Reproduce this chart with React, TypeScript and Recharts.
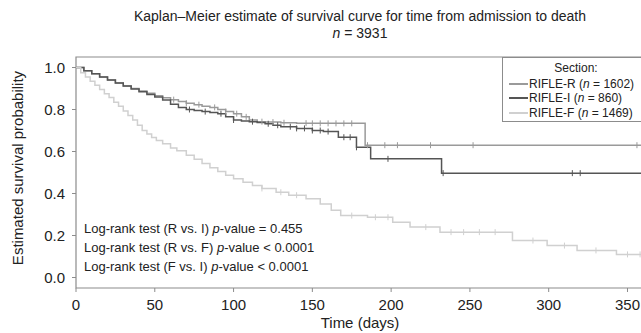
import { ComposedChart, Line, Scatter, XAxis, YAxis, ReferenceArea } from 'recharts'

const xTicks = [0, 50, 100, 150, 200, 250, 300, 350]
const yTicks = [0, 0.2, 0.4, 0.6, 0.8, 1.0]

// RIFLE-R
const rTime = [0, 5, 10, 15, 20, 25, 30, 35, 40, 45, 50, 55, 60, 65, 70, 75, 80, 85, 90, 95, 100, 105, 110, 115, 120, 130, 140, 150, 183.5, 365]
const rSurv = [1, 0.985, 0.97, 0.955, 0.94, 0.926, 0.912, 0.9, 0.888, 0.877, 0.866, 0.856, 0.847, 0.838, 0.83, 0.823, 0.816, 0.81, 0.8, 0.79, 0.78, 0.765, 0.75, 0.742, 0.74, 0.737, 0.735, 0.734, 0.63, 0.63]
const rCens = [62, 70, 78, 88, 95, 102, 108, 118, 125, 132, 146, 150, 155, 160, 165, 170, 175, 185, 196, 204, 225, 252, 356]

// RIFLE-I
const iTime = [0, 5, 10, 15, 20, 25, 30, 35, 40, 45, 50, 55, 60, 65, 70, 75, 80, 85, 90, 95, 100, 105, 110, 115, 120, 125, 130, 140, 150, 157, 166.5, 178, 187, 232, 365]
const iSurv = [1, 0.985, 0.97, 0.955, 0.94, 0.926, 0.912, 0.898, 0.885, 0.872, 0.86, 0.845, 0.825, 0.81, 0.8, 0.795, 0.79, 0.786, 0.78, 0.765, 0.75, 0.745, 0.742, 0.738, 0.732, 0.725, 0.718, 0.71, 0.7, 0.695, 0.668, 0.62, 0.565, 0.497, 0.497]
const iCens = [72, 82, 92, 100, 112, 122, 128, 136, 140, 145, 150, 155, 160, 170, 174, 178, 198, 233, 315, 320]

// RIFLE-F
const fTime = [0, 3, 6, 9, 12, 15, 18, 21, 24, 27, 30, 33, 36, 39, 42, 45, 48, 51, 55, 60, 64, 70, 75, 80, 85, 90, 95, 100, 106, 112, 118, 127, 135, 146, 155, 162, 168, 185, 201, 212, 231, 277, 299, 318, 343, 365]
const fSurv = [1, 0.975, 0.955, 0.935, 0.915, 0.895, 0.875, 0.857, 0.835, 0.815, 0.793, 0.772, 0.75, 0.725, 0.7, 0.683, 0.667, 0.652, 0.637, 0.617, 0.603, 0.582, 0.563, 0.543, 0.523, 0.505, 0.487, 0.47, 0.454, 0.438, 0.424, 0.406, 0.392, 0.375, 0.35, 0.32, 0.295, 0.287, 0.263, 0.24, 0.216, 0.176, 0.152, 0.129, 0.11, 0.11]
const fCens = [118, 130, 140, 175, 190, 198, 222, 238, 246, 256, 266, 290, 310, 330, 350, 358]

const pairs = (t: number[], s: number[]) => t.map((x, i) => ({ t: x, s: s[i] }))
const survAt = (t: number[], s: number[], x: number) => {
  let v = s[0]
  for (let i = 0; i < t.length; i++) if (t[i] <= x) v = s[i]
  return v
}
const censPts = (t: number[], s: number[], c: number[]) => c.map(x => ({ t: x, s: survAt(t, s, x) }))

const series = [
  { name: 'RIFLE-R', n: 1602, color: '#9a9a9a', curve: pairs(rTime, rSurv), cens: censPts(rTime, rSurv, rCens) },
  { name: 'RIFLE-I', n: 860, color: '#555555', curve: pairs(iTime, iSurv), cens: censPts(iTime, iSurv, iCens) },
  { name: 'RIFLE-F', n: 1469, color: '#d0d0d0', curve: pairs(fTime, fSurv), cens: censPts(fTime, fSurv, fCens) },
]

const font = '"Liberation Sans", Arial, sans-serif'
const frame = '#8c8c8c'

const tick = (color: string) => (props: any) => {
  const { cx, cy } = props
  return <line x1={cx} x2={cx} y1={cy - 3} y2={cy + 3} stroke={color} strokeWidth={1} />
}

export default function App() {
  return (
    <div style={{ position: 'absolute', left: 0, top: 0, width: 641, height: 333, overflow: 'hidden', background: '#fff', fontFamily: font, color: '#222' }}>
      <div style={{ position: 'absolute', left: 0, width: 720, top: 8, textAlign: 'center', fontSize: 14, lineHeight: '17px' }}>
        Kaplan–Meier estimate of survival curve for time from admission to death<br />
        <i>n</i> = 3931
      </div>

      <ComposedChart width={670} height={333} margin={{ top: 57, right: 11, bottom: 15, left: 0 }} style={{ position: 'absolute', left: 0, top: 0 }}>
        <XAxis dataKey="t" type="number" domain={[0, 370]} ticks={xTicks} allowDataOverflow height={30}
          axisLine={false} tickLine={{ stroke: frame }} tickSize={4} tickMargin={7}
          tick={{ fontSize: 15, fill: '#222', fontFamily: font }} />
        <YAxis type="number" domain={[-0.05, 1.05]} ticks={yTicks} allowDataOverflow width={76}
          axisLine={false} tickLine={{ stroke: frame }} tickSize={4} tickMargin={7}
          tickFormatter={(v: number) => v.toFixed(1)}
          tick={{ fontSize: 15, fill: '#222', fontFamily: font }} />
        <ReferenceArea x1={0} x2={370} y1={-0.05} y2={1.05} fill="none" stroke={frame} strokeWidth={1.2} />
        {series.map(s => (
          <Line key={s.name} data={s.curve} dataKey="s" type="stepAfter" stroke={s.color} strokeWidth={1.5} dot={false} isAnimationActive={false} />
        ))}
        {series.map(s => (
          <Scatter key={s.name + '-c'} data={s.cens} dataKey="s" shape={tick(s.color)} isAnimationActive={false} />
        ))}
      </ComposedChart>

      <div style={{ position: 'absolute', left: 0, width: 720, top: 314, textAlign: 'center', fontSize: 15, lineHeight: '17px' }}>Time (days)</div>
      <div style={{ position: 'absolute', left: 17, top: 168, transform: 'translate(-50%, -50%) rotate(-90deg)', whiteSpace: 'nowrap', fontSize: 15 }}>
        Estimated survival probability
      </div>

      <div style={{ position: 'absolute', left: 84, top: 219, fontSize: 13, lineHeight: '19px' }}>
        <div>Log-rank test (R vs. I) <i>p</i>-value = 0.455</div>
        <div>Log-rank test (R vs. F) <i>p</i>-value &lt; 0.0001</div>
        <div>Log-rank test (F vs. I) <i>p</i>-value &lt; 0.0001</div>
      </div>

      <div style={{ position: 'absolute', left: 502, top: 57, width: 170, height: 65, border: `1px solid ${frame}`, background: '#fff', fontSize: 12, lineHeight: '14.5px', boxSizing: 'border-box' }}>
        <div style={{ position: 'absolute', left: 0, width: 146, top: 3, textAlign: 'center' }}>Section:</div>
        {series.map((s, i) => (
          <div key={s.name} style={{ position: 'absolute', left: 6, top: 18.5 + i * 14.5, whiteSpace: 'nowrap', display: 'flex', alignItems: 'center' }}>
            <span style={{ display: 'inline-block', width: 19, height: 2, background: s.color, marginRight: 1 }} />
            {s.name} (<i>n</i>&nbsp;= {s.n})
          </div>
        ))}
      </div>
    </div>
  )
}
